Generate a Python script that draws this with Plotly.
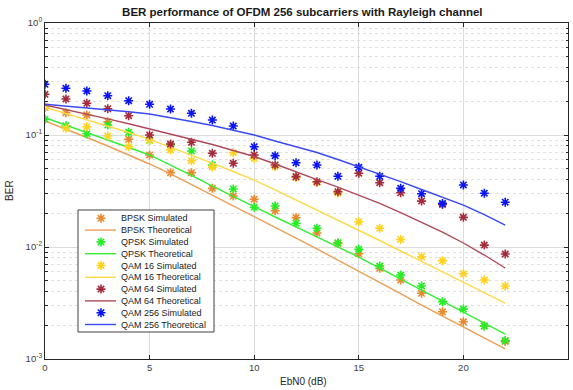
import plotly.graph_objects as go

# ---------------- data ----------------
ebn0 = list(range(0, 23))

bpsk_sim = [0.176, 0.158, 0.151, 0.1315, 0.0916, 0.0663, 0.0461, 0.0461, 0.0334, 0.0285,
            0.0267, 0.0211, 0.0183, 0.01334, 0.01075, 0.00871, 0.00645, 0.00507, 0.00386,
            0.00264, 0.00215, 0.00197, 0.00143]
bpsk_theory = [0.1334, 0.1131, 0.0950, 0.0798, 0.0663, 0.0551, 0.0449, 0.0361, 0.0291, 0.02347,
               0.01891, 0.01509, 0.01203, 0.00960, 0.00766, 0.00604, 0.00482, 0.00384, 0.00303,
               0.00242, 0.00193, 0.00154, 0.00123]
qpsk_sim = [0.138, 0.121, 0.1027, 0.1228, 0.1057, 0.0897, 0.0814, 0.0720, 0.054, 0.033,
            0.0226, 0.0232, 0.0163, 0.0147, 0.0109, 0.00953, 0.00676, 0.00562, 0.00449,
            0.00325, 0.00279, 0.00197, 0.00146]
qpsk_theory = [0.1427, 0.1229, 0.1053, 0.0902, 0.0773, 0.0663, 0.0540, 0.0435, 0.0350, 0.0282,
               0.0229, 0.01853, 0.01509, 0.01229, 0.0100, 0.00814, 0.00649, 0.00518, 0.00413,
               0.00329, 0.00264, 0.00210, 0.00167]
qam16_sim = [0.179, 0.1148, 0.1186, 0.098, 0.0786, 0.0897, 0.0735, 0.059, 0.0518, 0.0695,
             0.0619, 0.0521, 0.0418, 0.0377, 0.0303, 0.01683, 0.0147, 0.01167, 0.00819,
             0.00755, 0.00578, 0.00507, 0.00449]
qam16_theory = [0.1768, 0.1556, 0.1369, 0.1203, 0.1053, 0.0915, 0.0781, 0.0663, 0.0562, 0.0472,
                0.0396, 0.0323, 0.0263, 0.0214, 0.01742, 0.01418, 0.01143, 0.00921, 0.00745,
                0.00604, 0.00490, 0.00394, 0.00316]
qam64_sim = [0.2309, 0.2096, 0.1919, 0.1717, 0.1487, 0.100, 0.0831, 0.0861, 0.0687, 0.0559,
             0.0663, 0.054, 0.0425, 0.0383, 0.0312, 0.0455, 0.0375, 0.0305, 0.0257,
             0.0240, 0.0184, 0.0104, 0.00866]
qam64_theory = [0.1853, 0.1689, 0.1540, 0.1395, 0.1259, 0.1131, 0.1021, 0.0921, 0.0823, 0.0727,
                0.0643, 0.0551, 0.0467, 0.0400, 0.0343, 0.0291, 0.0245, 0.0203, 0.0167,
                0.0136, 0.01086, 0.00848, 0.00649]
qam256_sim = [0.2836, 0.2612, 0.2471, 0.2244, 0.2024, 0.1879, 0.1706, 0.1562, 0.1361, 0.1203,
              0.0786, 0.0654, 0.0566, 0.054, 0.0428, 0.0515, 0.0428, 0.0334, 0.0299,
              0.0245, 0.0358, 0.0302, 0.0251]
qam256_theory = [0.1879, 0.1815, 0.1749, 0.1682, 0.1611, 0.1540, 0.1433, 0.1320, 0.1216, 0.1108,
                 0.1000, 0.0884, 0.0789, 0.0698, 0.0604, 0.0521, 0.0449, 0.0384, 0.0326,
                 0.0280, 0.0237, 0.0195, 0.0157]

mod_names = ["BPSK", "QPSK", "QAM 16", "QAM 64", "QAM 256"]
y_tick_vals = [1e-3, 1e-2, 1e-1, 1]
y_tick_text = ["10<sup>-3</sup>", "10<sup>-2</sup>", "10<sup>-1</sup>", "10<sup>0</sup>"]
x_tick_vals = [0, 5, 10, 15, 20, 25]

# ---------------- styles ----------------
star_colors = ["#E8892E", "#22EE22", "#FFD21F", "#A52A3A", "#0A14F0"]
line_colors = ["#EC9F55", "#33EE33", "#FFD94A", "#B0485A", "#3A4AF5"]
FONT = "Liberation Sans, Arial, sans-serif"
STAR = dict(symbol="asterisk-open", size=7.5)
STAR_W = 1.6

sims = [bpsk_sim, qpsk_sim, qam16_sim, qam64_sim, qam256_sim]
theories = [bpsk_theory, qpsk_theory, qam16_theory, qam64_theory, qam256_theory]

fig = go.Figure()
for name, s, t, sc, lc in zip(mod_names, sims, theories, star_colors, line_colors):
    fig.add_trace(go.Scatter(
        x=ebn0, y=s, mode="markers", name=name + " Simulated",
        marker=dict(**STAR, color=sc, line=dict(width=STAR_W, color=sc)),
    ))
    fig.add_trace(go.Scatter(
        x=ebn0, y=t, mode="lines", name=name + " Theoretical",
        line=dict(color=lc, width=1.4),
    ))

# ---------------- custom compact legend (overlay axes in pixel units) ----------------
LEG_L, LEG_R, LEG_T, LEG_B = 78, 214, 210, 332
ROW0, ROW_STEP = 218.3, 11.8
fig.add_trace(go.Scatter(
    x=[LEG_L, LEG_R, LEG_R, LEG_L, LEG_L], y=[LEG_T, LEG_T, LEG_B, LEG_B, LEG_T],
    mode="lines", fill="toself", fillcolor="white",
    line=dict(color="#404040", width=1), xaxis="x2", yaxis="y2", hoverinfo="skip",
))
annotations = []
for i, (name, sc, lc) in enumerate(zip(mod_names, star_colors, line_colors)):
    r_sim = ROW0 + ROW_STEP * (2 * i)
    r_th = ROW0 + ROW_STEP * (2 * i + 1)
    fig.add_trace(go.Scatter(
        x=[101], y=[r_sim], mode="markers", xaxis="x2", yaxis="y2",
        marker=dict(**STAR, color=sc, line=dict(width=STAR_W, color=sc)),
        hoverinfo="skip",
    ))
    fig.add_trace(go.Scatter(
        x=[85, 116], y=[r_th, r_th], mode="lines", xaxis="x2", yaxis="y2",
        line=dict(color=lc, width=1.4), hoverinfo="skip",
    ))
    for txt, ry in [(name + " Simulated", r_sim), (name + " Theoretical", r_th)]:
        annotations.append(dict(
            x=119, y=ry, xref="x2", yref="y2", text=txt, showarrow=False,
            xanchor="left", yanchor="middle",
            font=dict(family=FONT, size=9, color="#1a1a1a"),
        ))

# axis titles
annotations.append(dict(x=0.495, y=-0.066, xref="paper", yref="paper", text="EbN0 (dB)",
                        showarrow=False, xanchor="center", yanchor="middle",
                        font=dict(family=FONT, size=10, color="#262626")))
annotations.append(dict(x=-0.067, y=0.503, xref="paper", yref="paper", text="BER",
                        showarrow=False, xanchor="center", yanchor="middle", textangle=-90,
                        font=dict(family=FONT, size=10, color="#262626")))

minor_vals = [m * 10 ** e for e in (-3, -2, -1) for m in range(2, 10)]

fig.update_layout(
    width=573, height=390,
    margin=dict(l=45, r=5, t=23, b=31),
    paper_bgcolor="white", plot_bgcolor="white",
    showlegend=False,
    font=dict(family=FONT, size=9.5, color="#404040"),
    title=dict(text="<b>BER performance of OFDM 256 subcarriers with Rayleigh channel</b>",
               x=0.492, xref="paper", y=1 - 12 / 390, yref="container", yanchor="middle",
               xanchor="center", font=dict(family=FONT, size=11.5, color="#1a1a1a")),
    annotations=annotations,
    xaxis=dict(range=[0, 25], tickvals=x_tick_vals, showgrid=True, gridcolor="#DCDCDC",
               gridwidth=1, ticks="inside", ticklen=4, tickcolor="#262626",
               showline=True, linecolor="#262626", linewidth=1, mirror="ticks",
               zeroline=False, tickfont=dict(size=9.5, color="#404040")),
    yaxis=dict(type="log", range=[-3, 0], tickvals=y_tick_vals, ticktext=y_tick_text,
               showgrid=True, gridcolor="#DCDCDC", gridwidth=1,
               ticks="inside", ticklen=4, tickcolor="#262626",
               showline=True, linecolor="#262626", linewidth=1, mirror="ticks",
               zeroline=False, tickfont=dict(size=9.5, color="#404040"),
               minor=dict(tickvals=minor_vals, ticks="inside", ticklen=2.5,
                          tickcolor="#262626", showgrid=True, gridcolor="#E0E0E0",
                          griddash="dot", gridwidth=1)),
    xaxis2=dict(overlaying="x", anchor="y2", range=[45, 568], visible=False),
    yaxis2=dict(overlaying="y", anchor="x2", range=[359, 23], visible=False),
)

fig.write_html(
    "out.html",
    config={"displayModeBar": False},
    post_script="document.body.style.margin='0';document.body.style.overflow='hidden';",
)
